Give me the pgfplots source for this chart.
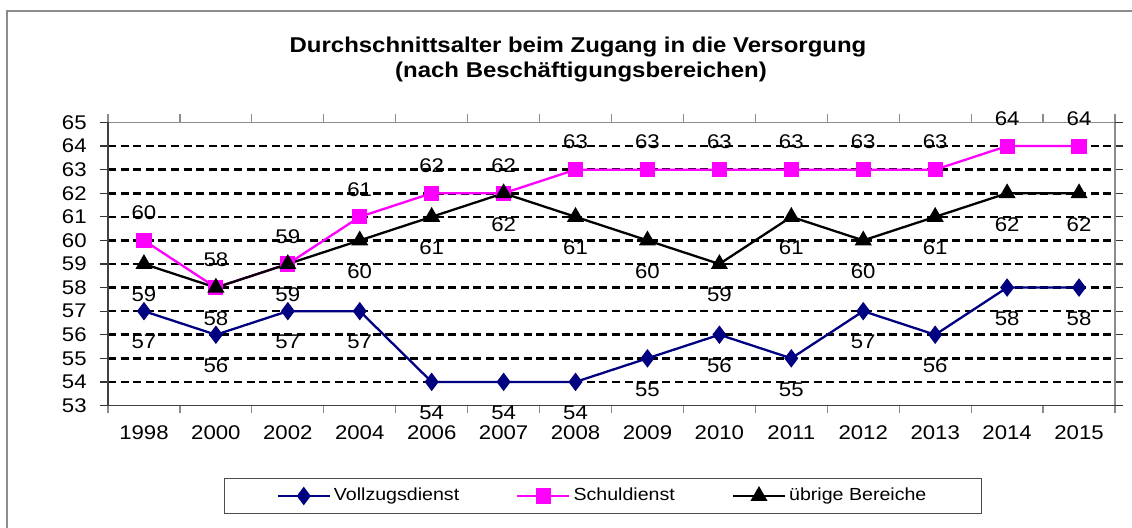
\documentclass[border=0pt]{standalone}
\usepackage{fontspec}
\setmainfont{Liberation Sans}[FakeStretch=1.12]
\usepackage{pgfplots}
\pgfplotsset{compat=1.18}
\definecolor{navyc}{RGB}{0,0,128}
\definecolor{magc}{RGB}{255,0,255}
\definecolor{framec}{RGB}{140,140,140}
\begin{document}
\begin{tikzpicture}[x=0.5pt,y=0.5pt]
\useasboundingbox (0,0) rectangle (1132,528);
\fill[white] (0,0) rectangle (1132,528);
\draw[framec, line width=0.7pt] (7,0) -- (7,517) -- (1132,517);
\node[anchor=base, font=\fontsize{10.7}{12}\selectfont\bfseries] at (578,475) {Durchschnittsalter beim Zugang in die Versorgung};
\node[anchor=base, font=\fontsize{10.7}{12}\selectfont\bfseries] at (581,450.5) {(nach Beschäftigungsbereichen)};
\begin{axis}[
  scale only axis,
  width=503.5pt, height=141.5pt,
  at={(54pt,61.25pt)}, anchor=south west,
  xmin=-0.5, xmax=13.5, ymin=53, ymax=65,
  xtick={-0.5,0.5,...,13.5},
  x tick label as interval,
  xticklabels={1998,2000,2002,2004,2006,2007,2008,2009,2010,2011,2012,2013,2014,2015},
  ytick={54,55,...,64},
  extra y ticks={53,65},
  extra y tick style={grid=none},
  tick align=outside,
  major tick length=4pt,
  x tick style={framec, line width=0.6pt},
  y tick style={black!80, line width=0.6pt},
  tick label style={font=\fontsize{9.9}{11}\selectfont},
  xticklabel style={yshift=-2.5pt},
  yticklabel style={inner xsep=6.5pt},
  /pgf/number format/assume math mode=true,
  axis line style={framec, line width=0.7pt},
  ymajorgrids,
  major grid style={black, line width=1.3pt, dash pattern=on 4pt off 2.3pt},
  clip=false,
  legend columns=3,
  legend style={at={(0.4916,-0.3198)}, anchor=center, draw=black!70, line width=0.5pt,
    inner xsep=26pt, inner ysep=3pt,
    font=\fontsize{8.75}{10}\selectfont,
    /tikz/every even column/.append style={column sep=27pt},
    nodes={inner xsep=1.5pt}},
  legend image code/.code={\draw[mark repeat=2,mark phase=2,#1] plot coordinates {(0pt,0pt) (13pt,0pt) (26pt,0pt)};},
  nodes near coords,
  every node near coord/.append style={font=\fontsize{9.9}{11}\selectfont, color=black, anchor=center},
]
\addplot[color=navyc, line width=1.15pt, mark=diamond*, mark size=3.7pt, mark options={solid, fill=navyc},
  every node near coord/.append style={yshift=-15.5pt}]
  coordinates {(0,57) (1,56) (2,57) (3,57) (4,54) (5,54) (6,54) (7,55) (8,56) (9,55) (10,57) (11,56) (12,58) (13,58)};
\addlegendentry{Vollzugsdienst}
\addplot[color=magc, line width=1.15pt, mark=square*, mark size=3.2pt, mark options={solid, fill=magc},
  every node near coord/.append style={yshift=13.75pt}]
  coordinates {(0,60) (1,58) (2,59) (3,61) (4,62) (5,62) (6,63) (7,63) (8,63) (9,63) (10,63) (11,63) (12,64) (13,64)};
\addlegendentry{Schuldienst}
\addplot[color=black, line width=1.15pt, mark=triangle*, mark size=3.8pt, mark options={solid, fill=black},
  every node near coord/.append style={yshift=-15.5pt}]
  coordinates {(0,59) (1,58) (2,59) (3,60) (4,61) (5,62) (6,61) (7,60) (8,59) (9,61) (10,60) (11,61) (12,62) (13,62)};
\addlegendentry{übrige Bereiche}
\draw[black!75, line width=0.7pt] (rel axis cs:0,1) -- (rel axis cs:0,0) -- (rel axis cs:1,0);
\end{axis}
\end{tikzpicture}
\end{document}
